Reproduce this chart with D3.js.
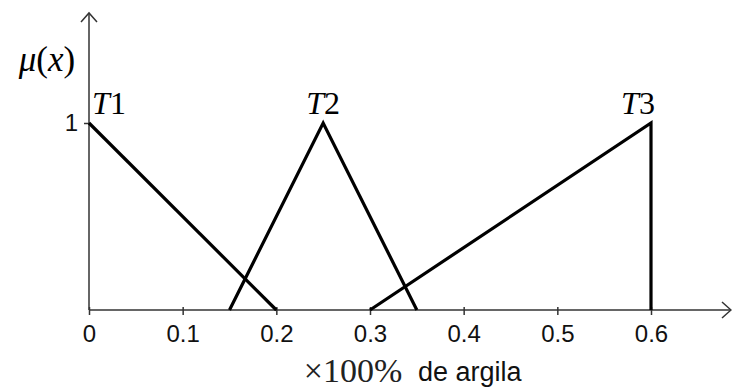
<!DOCTYPE html>
<html>
<head>
<meta charset="utf-8">
<script src="https://cdn.jsdelivr.net/npm/d3@7"></script>
<style>
  html, body { margin: 0; padding: 0; background: #fff; }
  svg { display: block; }
</style>
</head>
<body>
<svg id="chart" width="732" height="388"></svg>
<script>
// Fuzzy membership functions for clay content
const setNames = ["T1", "T2", "T3"];
const setX = [
  [0, 0.2],
  [0.15, 0.25, 0.35],
  [0.3, 0.6, 0.6]
];
const setMu = [
  [1, 0],
  [0, 1, 0],
  [0, 1, 0]
];
const xTicks = [0, 0.1, 0.2, 0.3, 0.4, 0.5, 0.6];
const yTicks = [1];

const svg = d3.select("#chart");
const x = d3.scaleLinear().domain([0, 0.6]).range([89, 651]);
const y = d3.scaleLinear().domain([0, 1]).range([310, 123]);

const axisColor = "#333";
const sans = "'Liberation Sans', Arial, sans-serif";

// x axis with arrow
svg.append("line")
  .attr("x1", x(0)).attr("x2", 730)
  .attr("y1", y(0)).attr("y2", y(0))
  .attr("stroke", axisColor).attr("stroke-width", 1.5);
svg.append("path")
  .attr("d", `M${722},${y(0) - 8} L${731},${y(0)} L${722},${y(0) + 8}`)
  .attr("fill", "none").attr("stroke", axisColor).attr("stroke-width", 1.5);

// y axis with arrow
svg.append("line")
  .attr("x1", x(0)).attr("x2", x(0))
  .attr("y1", y(0)).attr("y2", 14)
  .attr("stroke", axisColor).attr("stroke-width", 1.5);
svg.append("path")
  .attr("d", `M${x(0) - 8},${22} L${x(0)},${13} L${x(0) + 8},${22}`)
  .attr("fill", "none").attr("stroke", axisColor).attr("stroke-width", 1.5);

// x ticks
const xAxis = d3.axisBottom(x).tickValues(xTicks).tickSize(5).tickPadding(10)
  .tickFormat(d => d === 0 ? "0" : d3.format(".1f")(d));
const gx = svg.append("g").attr("transform", `translate(0,${y(0)})`).call(xAxis)
  .attr("font-size", null).attr("font-family", null);
gx.select(".domain").remove();
gx.selectAll("line").attr("stroke", axisColor).attr("stroke-width", 1.5).attr("y1", -3);
gx.selectAll("text")
  .style("font-family", sans)
  .style("font-size", "24px").attr("fill", "#111");

// y ticks
const yAxis = d3.axisLeft(y).tickValues(yTicks).tickSize(5).tickPadding(6).tickFormat(d3.format("d"));
const gy = svg.append("g").attr("transform", `translate(${x(0)},0)`).call(yAxis)
  .attr("font-size", null).attr("font-family", null);
gy.select(".domain").remove();
gy.selectAll("line").attr("stroke", axisColor).attr("stroke-width", 1.5);
gy.selectAll("text")
  .style("font-family", sans)
  .style("font-size", "24px").attr("fill", "#111");

// membership lines
const line = d3.line().x(d => x(d[0])).y(d => y(d[1]));
setX.forEach((xs, i) => {
  const pts = xs.map((v, j) => [v, setMu[i][j]]);
  svg.append("path")
    .attr("d", line(pts))
    .attr("fill", "none")
    .attr("stroke", "#000")
    .attr("stroke-width", 3.2)
    .attr("stroke-linejoin", "miter");
});

// set labels above peaks
const serif = "'Liberation Serif', 'DejaVu Serif', serif";
const labelPos = [[0, 1], [0.25, 1], [0.6, 1]];
const labelDx = [20, 0, -13];
setNames.forEach((name, i) => {
  const t = svg.append("text")
    .attr("x", x(labelPos[i][0]) + labelDx[i])
    .attr("y", y(labelPos[i][1]) - 9)
    .attr("text-anchor", "middle")
    .style("font-family", serif)
    .style("font-size", "32px")
    .attr("fill", "#000");
  t.append("tspan").style("font-style", "italic").text(name[0]);
  t.append("tspan").text(name.slice(1));
});

// y axis label μ(x)
const ml = svg.append("text")
  .attr("x", 47).attr("y", 71)
  .attr("text-anchor", "middle")
  .style("font-family", serif)
  .style("font-size", "35px").attr("fill", "#000");
ml.append("tspan").style("font-style", "italic").text("μ");
ml.append("tspan").text("(");
ml.append("tspan").style("font-style", "italic").text("x");
ml.append("tspan").text(")");

// x axis label
svg.append("text")
  .attr("x", 353).attr("y", 382)
  .attr("text-anchor", "middle")
  .style("font-family", serif)
  .style("font-size", "34px").attr("fill", "#222")
  .text("×100%");
svg.append("text")
  .attr("x", 418).attr("y", 381)
  .style("font-family", sans)
  .style("font-size", "27px").attr("fill", "#111")
  .text("de argila");
</script>
</body>
</html>
